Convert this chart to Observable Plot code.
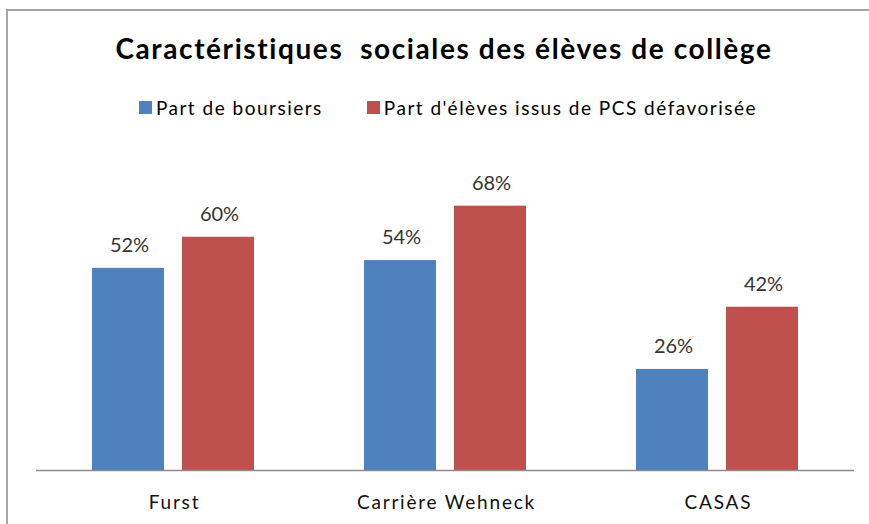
<!DOCTYPE html>
<html>
<head>
<meta charset="utf-8">
<script src="https://cdn.jsdelivr.net/npm/d3@7"></script>
<script src="https://cdn.jsdelivr.net/npm/@observablehq/plot@0.6"></script>
<style>
  html, body { margin: 0; padding: 0; background: #fff; }
  body { width: 869px; height: 524px; overflow: hidden; position: relative; font-family: Lato, "Open Sans", sans-serif; }
  #frame { position: absolute; left: 6px; top: 9px; width: 900px; height: 560px; border-left: 2px solid #a6a6a6; border-top: 2px solid #a6a6a6; box-sizing: border-box; }
  #title { position: absolute; left: 0; top: 0; width: 888px; height: 78px; line-height: 96px; text-align: center; font-weight: 700; font-size: 28px; letter-spacing: 1.6px; color: #000; white-space: pre; }
  #legend { position: absolute; left: 0; top: 81px; width: 896px; height: 52px; display: flex; justify-content: center; align-items: center; font-size: 19px; letter-spacing: 1.5px; color: #000; }
  .item { display: flex; align-items: center; margin: 0 22px; }
  .sw { width: 13px; height: 13px; margin-right: 4px; }
  #chart { position: absolute; left: 0; top: 128px; }
</style>
</head>
<body>
<div id="frame"></div>
<div id="title">Caractéristiques  sociales des élèves de collège</div>
<div id="legend"></div>
<div id="chart"></div>
<script>
const categories = ["Furst", "Carrière Wehneck", "CASAS"];
const seriesNames = ["Part de boursiers", "Part d'élèves issus de PCS défavorisée"];
const boursiers = [52, 54, 26];
const pcsDefavorisee = [60, 68, 42];
const colors = ["#4F81BD", "#C0504D"];

const rowsA = categories.map((c, i) => ({cat: c, value: boursiers[i]}));
const rowsB = categories.map((c, i) => ({cat: c, value: pcsDefavorisee[i]}));

// legend
const legend = document.getElementById("legend");
seriesNames.forEach((s, i) => {
  const it = document.createElement("div");
  it.className = "item";
  const sw = document.createElement("div");
  sw.className = "sw";
  sw.style.background = colors[i];
  const t = document.createElement("span");
  t.textContent = s;
  it.appendChild(sw); it.appendChild(t);
  legend.appendChild(it);
});

const fmt = d => d + "%";
const chart = Plot.plot({
  width: 869,
  height: 396,
  marginTop: 31,
  marginBottom: 54,
  marginLeft: 36,
  marginRight: 15,
  style: {fontFamily: "Lato, 'Open Sans', sans-serif", background: "transparent"},
  x: {domain: categories, paddingInner: 0.4055, paddingOuter: 0.2036, label: null, axis: null},
  y: {domain: [0, 80], axis: null},
  marks: [
    Plot.barY(rowsA, {x: "cat", y: "value", fill: colors[0], insetLeft: 0, insetRight: 90}),
    Plot.barY(rowsB, {x: "cat", y: "value", fill: colors[1], insetLeft: 90, insetRight: 0}),
    Plot.text(rowsA, {x: "cat", y: "value", text: d => fmt(d.value), dx: -44, dy: -23, fontSize: 20, fill: "#333", style: "letter-spacing:1.5px"}),
    Plot.text(rowsB, {x: "cat", y: "value", text: d => fmt(d.value), dx: 46, dy: -23, fontSize: 20, fill: "#333", style: "letter-spacing:1.5px"}),
    Plot.ruleY([0], {stroke: "#8c8c8c", strokeWidth: 1.5}),
    Plot.axisX({tickSize: 0, tickPadding: 25, fontSize: 19, fill: "#111", label: null, dx: 1})
  ]
});
chart.querySelectorAll("g[aria-label='x-axis tick label'] text").forEach(t => t.style.letterSpacing = "1.8px");
document.getElementById("chart").appendChild(chart);
</script>
</body>
</html>
